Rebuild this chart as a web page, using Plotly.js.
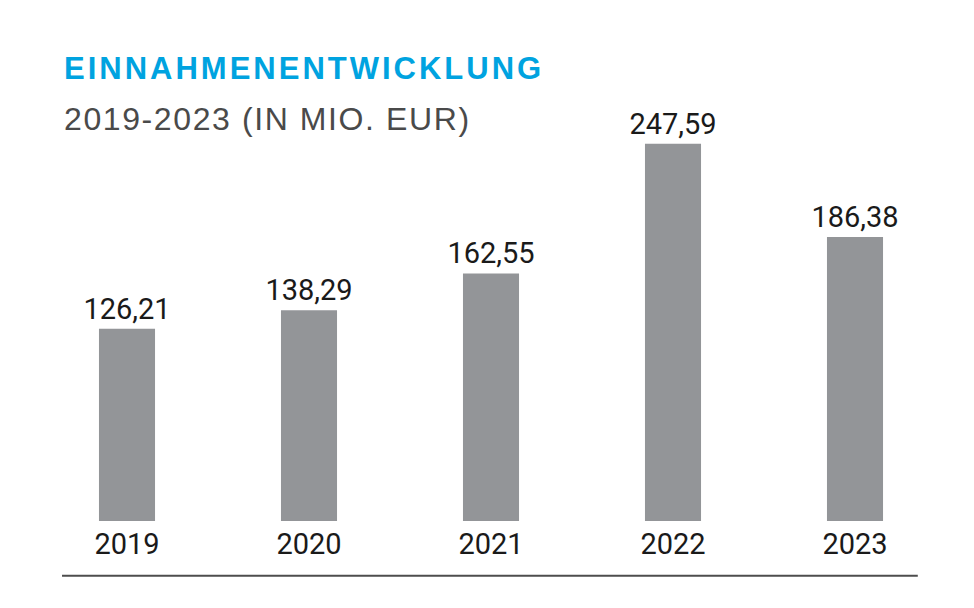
<!DOCTYPE html>
<html>
<head>
<meta charset="utf-8">
<script src="https://cdn.plot.ly/plotly-3.0.1.min.js"></script>
<style>html,body{margin:0;padding:0;background:#fff;}#chart{width:974px;height:608px;}</style>
</head>
<body>
<div id="chart"></div>
<script>
const years = ["2019", "2020", "2021", "2022", "2023"];
const revenue = [126.21, 138.29, 162.55, 247.59, 186.38];
const titleText = "EINNAHMENENTWICKLUNG";
const subtitleText = "2019-2023 (IN MIO. EUR)";

const FONT = "Roboto, 'Liberation Sans', Arial, sans-serif";
const HFONT = "'Liberation Sans', Arial, sans-serif";

const trace = {
  type: "bar",
  x: years,
  y: revenue,
  marker: {color: "#939598", line: {width: 0}},
  texttemplate: "%{y:.2f}",
  textposition: "outside",
  constraintext: "none",
  cliponaxis: false,
  textfont: {family: FONT, size: 29, color: "#1a1a1a"},
  hoverinfo: "skip"
};

const layout = {
  width: 974,
  height: 608,
  margin: {l: 36, r: 28, t: 64, b: 87},
  paper_bgcolor: "#ffffff",
  plot_bgcolor: "#ffffff",
  separators: ",.",
  showlegend: false,
  bargap: 0.692,
  font: {family: FONT, color: "#1a1a1a"},
  xaxis: {
    type: "category",
    range: [-0.5, 4.5],
    showgrid: false,
    zeroline: false,
    showline: false,
    ticks: "",
    ticklabelstandoff: 3,
    tickfont: {family: FONT, size: 29, color: "#1a1a1a"},
    fixedrange: true
  },
  yaxis: {
    range: [0, 300],
    visible: false,
    showgrid: false,
    zeroline: false,
    fixedrange: true
  },
  shapes: [{
    type: "line",
    xref: "paper", yref: "paper",
    x0: 0.0286, x1: 0.969,
    y0: -0.12, y1: -0.12,
    line: {color: "#4d4d4d", width: 2}
  }],
  annotations: [
    {
      text: "<b><span style='letter-spacing:3px'>" + titleText + "</span></b>",
      xref: "paper", yref: "paper",
      x: 0.0286, y: 0.99,
      xanchor: "left", yanchor: "middle",
      showarrow: false,
      font: {family: HFONT, size: 31, color: "#00a3e0"}
    },
    {
      text: "<span style='letter-spacing:1.6px'>" + subtitleText + "</span>",
      xref: "paper", yref: "paper",
      x: 0.0286, y: 0.879,
      xanchor: "left", yanchor: "middle",
      showarrow: false,
      font: {family: HFONT, size: 32, color: "#4a4a4a"}
    }
  ]
};

Plotly.newPlot("chart", [trace], layout, {displayModeBar: false, staticPlot: true});
</script>
</body>
</html>
